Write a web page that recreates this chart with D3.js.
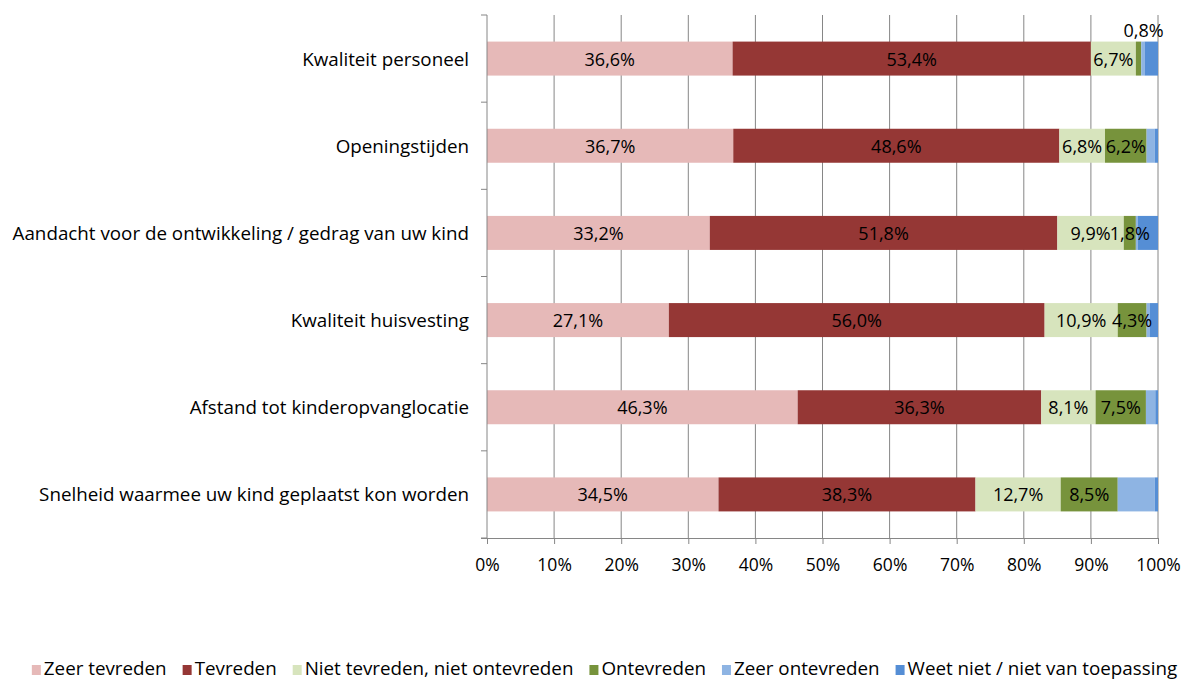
<!DOCTYPE html>
<html>
<head>
<meta charset="utf-8">
<script src="https://cdn.jsdelivr.net/npm/d3@7.9.0/dist/d3.min.js"></script>
<style>
  body { margin: 0; background: #fff; }
  svg { display: block; font-family: "Open Sans", sans-serif; }
</style>
</head>
<body>
<svg id="chart" width="1184" height="682"></svg>
<script>
// categories, top to bottom
const categories = [
  "Kwaliteit personeel",
  "Openingstijden",
  "Aandacht voor de ontwikkeling / gedrag van uw kind",
  "Kwaliteit huisvesting",
  "Afstand tot kinderopvanglocatie",
  "Snelheid waarmee uw kind geplaatst kon worden"
];

const seriesNames = ["Zeer tevreden", "Tevreden", "Niet tevreden, niet ontevreden",
  "Ontevreden", "Zeer ontevreden", "Weet niet / niet van toepassing"];
const colors = ["#E6B9B8", "#953735", "#D7E4BD", "#77933C", "#8EB4E3", "#558ED5"];

// values per series (%), same order as categories
const zeerTevreden   = [36.6, 36.7, 33.2, 27.1, 46.3, 34.5];
const tevreden       = [53.4, 48.6, 51.8, 56.0, 36.3, 38.3];
const neutraal       = [6.7, 6.8, 9.9, 10.9, 8.1, 12.7];
const ontevreden     = [0.8, 6.2, 1.8, 4.3, 7.5, 8.5];
const zeerOntevreden = [0.5, 1.2, 0.3, 0.5, 1.4, 5.5];
const weetNiet       = [2.0, 0.5, 3.0, 1.2, 0.4, 0.5];

// which segment labels are shown (Excel hid the tiny ones)
const showLabel = [
  [true, true, true, "above", false, false],
  [true, true, true, true, false, false],
  [true, true, true, true, false, false],
  [true, true, true, true, false, false],
  [true, true, true, true, false, false],
  [true, true, true, true, false, false]
];

const xTicks = [0, 10, 20, 30, 40, 50, 60, 70, 80, 90, 100];

const series = [zeerTevreden, tevreden, neutraal, ontevreden, zeerOntevreden, weetNiet];
const rows = categories.map((c, i) => {
  const r = { cat: c };
  seriesNames.forEach((s, j) => r[s] = series[j][i]);
  return r;
});

const svg = d3.select("#chart");
const margin = { left: 487, right: 26, top: 15, bottom: 144 };
const W = 1184, H = 682;
const textSize = 18.8, numSize = 18, tickSize = 17.5;

const x = d3.scaleLinear().domain([0, 100]).range([margin.left, W - margin.right]);
const y = d3.scaleBand().domain(categories).range([margin.top, H - margin.bottom])
  .paddingInner(0.61).paddingOuter(0.305);
const grey = "#868686";

// gridlines
svg.append("g").selectAll("line").data(xTicks.slice(1)).join("line")
  .attr("x1", d => x(d)).attr("x2", d => x(d))
  .attr("y1", margin.top).attr("y2", H - margin.bottom)
  .attr("stroke", grey).attr("stroke-width", 1);

// stacked bars
const stack = d3.stack().keys(seriesNames)(rows);
const layers = svg.append("g").selectAll("g").data(stack).join("g")
  .attr("fill", (d, i) => colors[i]);
layers.selectAll("rect").data(d => d).join("rect")
  .attr("x", d => x(d[0]))
  .attr("width", d => x(d[1]) - x(d[0]))
  .attr("y", d => y(d.data.cat))
  .attr("height", y.bandwidth());

// segment labels
const fmt = v => v.toFixed(1).replace(".", ",") + "%";
stack.forEach((layer, si) => {
  layer.forEach((d, ci) => {
    const mode = showLabel[ci][si];
    if (!mode) return;
    const cx = (x(d[0]) + x(d[1])) / 2;
    const cy = y(d.data.cat) + y.bandwidth() / 2;
    svg.append("text")
      .attr("x", mode === "above" ? cx + 5 : cx)
      .attr("y", mode === "above" ? cy - 29 : cy)
      .attr("text-anchor", "middle")
      .attr("dominant-baseline", "central")
      .attr("font-size", numSize)
      .attr("fill", "#000")
      .text(fmt(series[si][ci]));
  });
});

// x axis
const xAxis = svg.append("g")
  .attr("transform", `translate(0,${H - margin.bottom})`)
  .call(d3.axisBottom(x).tickValues(xTicks).tickFormat(d => d + "%").tickSize(6).tickPadding(15));
xAxis.select(".domain").attr("stroke", grey).attr("d", `M${x(0) - 6},0.5H${x(100)}`);
xAxis.selectAll(".tick line").attr("stroke", grey);
xAxis.selectAll("text").attr("font-size", tickSize).attr("fill", "#000")
  .attr("font-family", "Open Sans, sans-serif");

// y axis
const step = y.step();
const yBounds = d3.range(categories.length + 1).map(i => margin.top + i * step);
svg.append("line")
  .attr("x1", x(0)).attr("x2", x(0))
  .attr("y1", margin.top).attr("y2", H - margin.bottom)
  .attr("stroke", grey);
svg.append("g").selectAll("line").data(yBounds).join("line")
  .attr("x1", x(0) - 6).attr("x2", x(0))
  .attr("y1", d => d).attr("y2", d => d)
  .attr("stroke", grey);
svg.append("g").selectAll("text").data(categories).join("text")
  .attr("x", x(0) - 18)
  .attr("y", d => y(d) + y.bandwidth() / 2)
  .attr("text-anchor", "end")
  .attr("dominant-baseline", "central")
  .attr("font-size", textSize)
  .attr("fill", "#000")
  .text(d => d);

// legend
const legend = svg.append("g");
let lx = 0;
seriesNames.forEach((s, i) => {
  const g = legend.append("g").attr("transform", `translate(${lx},0)`);
  g.append("rect").attr("x", 0).attr("y", -10).attr("width", 9).attr("height", 10)
    .attr("fill", colors[i]);
  const t = g.append("text").attr("x", 12).attr("y", 0)
    .attr("font-size", textSize).attr("fill", "#000").text(s);
  lx += 12 + t.node().getComputedTextLength() + 16;
});
const legendW = lx - 16;
legend.attr("transform", `translate(${(31 + 1178 - legendW) / 2},${H - 7})`);
</script>
</body>
</html>
